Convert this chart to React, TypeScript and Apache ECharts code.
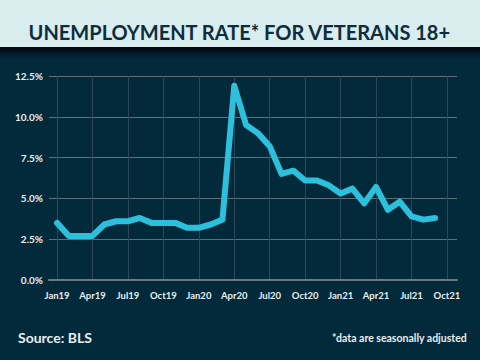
import React, { useEffect, useRef } from "react";
import * as echarts from "echarts";

const months = [
  "Jan19","Feb19","Mar19","Apr19","May19","Jun19","Jul19","Aug19","Sep19","Oct19","Nov19","Dec19",
  "Jan20","Feb20","Mar20","Apr20","May20","Jun20","Jul20","Aug20","Sep20","Oct20","Nov20","Dec20",
  "Jan21","Feb21","Mar21","Apr21","May21","Jun21","Jul21","Aug21","Sep21"
];
const rates = [
  3.5, 2.7, 2.7, 2.7, 3.4, 3.6, 3.6, 3.8, 3.5, 3.5, 3.5, 3.2,
  3.2, 3.4, 3.7, 11.9, 9.5, 9.0, 8.2, 6.5, 6.7, 6.1, 6.1, 5.8,
  5.3, 5.6, 4.7, 5.7, 4.3, 4.8, 3.9, 3.7, 3.8
];
const tickLabels = ["Jan19","Apr19","Jul19","Oct19","Jan20","Apr20","Jul20","Oct20","Jan21","Apr21","Jul21","Oct21"];
const tickPositions = [0, 3, 6, 9, 12, 15, 18, 21, 24, 27, 30, 33];

const TITLE = "UNEMPLOYMENT RATE* FOR VETERANS 18+";
const SOURCE = "Source: BLS";
const NOTE = "*data are seasonally adjusted";

export default function App() {
  const ref = useRef<HTMLDivElement>(null);
  useEffect(() => {
    document.body.style.margin = "0";
    if (!ref.current) return;
    const chart = echarts.init(ref.current, null, { renderer: "svg" });
    const font = "Lato";
    chart.setOption({
      animation: false,
      backgroundColor: "#032a3b",
      grid: { left: 49, right: 23, top: 76, bottom: 80 },
      graphic: [
        { type: "rect", shape: { x: 0, y: 0, width: 480, height: 47 }, style: { fill: "#d9edee" }, z: 1 },
        {
          type: "rect",
          shape: { x: 0, y: 47, width: 480, height: 12 },
          style: {
            fill: new echarts.graphic.LinearGradient(0, 0, 0, 1, [
              { offset: 0, color: "rgba(0,0,0,0.85)" },
              { offset: 1, color: "rgba(0,0,0,0)" }
            ])
          },
          z: 1
        },
        {
          type: "text",
          left: "center",
          top: 22,
          style: { text: TITLE, fill: "#0d2c3d", font: `bold 20px ${font}` },
          z: 2
        },
        {
          type: "text",
          left: 18,
          top: 330,
          style: { text: SOURCE, fill: "#e8eef1", font: `bold 14px ${font}` },
          z: 2
        },
        {
          type: "text",
          right: 13,
          top: 332,
          style: { text: NOTE, fill: "#e8eef1", font: `bold 10.5px ${font}` },
          z: 2
        }
      ],
      xAxis: {
        type: "value",
        min: -0.68,
        max: 33.85,
        axisLine: { show: true, onZero: false, lineStyle: { color: "#6c7a83", width: 2 } },
        axisTick: { show: false, customValues: tickPositions },
        splitLine: { show: true, lineStyle: { color: "#2d4858", width: 1 } },
        axisLabel: {
          customValues: tickPositions,
          color: "#e8eef1",
          fontFamily: font,
          fontWeight: "bold",
          fontSize: 9.5,
          margin: 10,
          formatter: (v: number) => tickLabels[tickPositions.indexOf(Math.round(v))] ?? ""
        }
      },
      yAxis: {
        type: "value",
        min: 0,
        max: 12.5,
        interval: 2.5,
        axisLine: { show: false },
        axisTick: { show: false },
        splitLine: { show: true, lineStyle: { color: "#5f6f79", width: 1 } },
        axisLabel: {
          color: "#e8eef1",
          fontFamily: font,
          fontWeight: "bold",
          fontSize: 10,
          margin: 6,
          formatter: (v: number) => v.toFixed(1) + "%"
        }
      },
      series: [
        {
          type: "line",
          data: rates.map((v, i) => [i, v]),
          symbol: "none",
          lineStyle: { color: "#2cc0dc", width: 6, cap: "round", join: "round" },
          z: 3
        }
      ]
    });
    return () => chart.dispose();
  }, []);
  return <div ref={ref} style={{ width: 480, height: 360 }} />;
}
